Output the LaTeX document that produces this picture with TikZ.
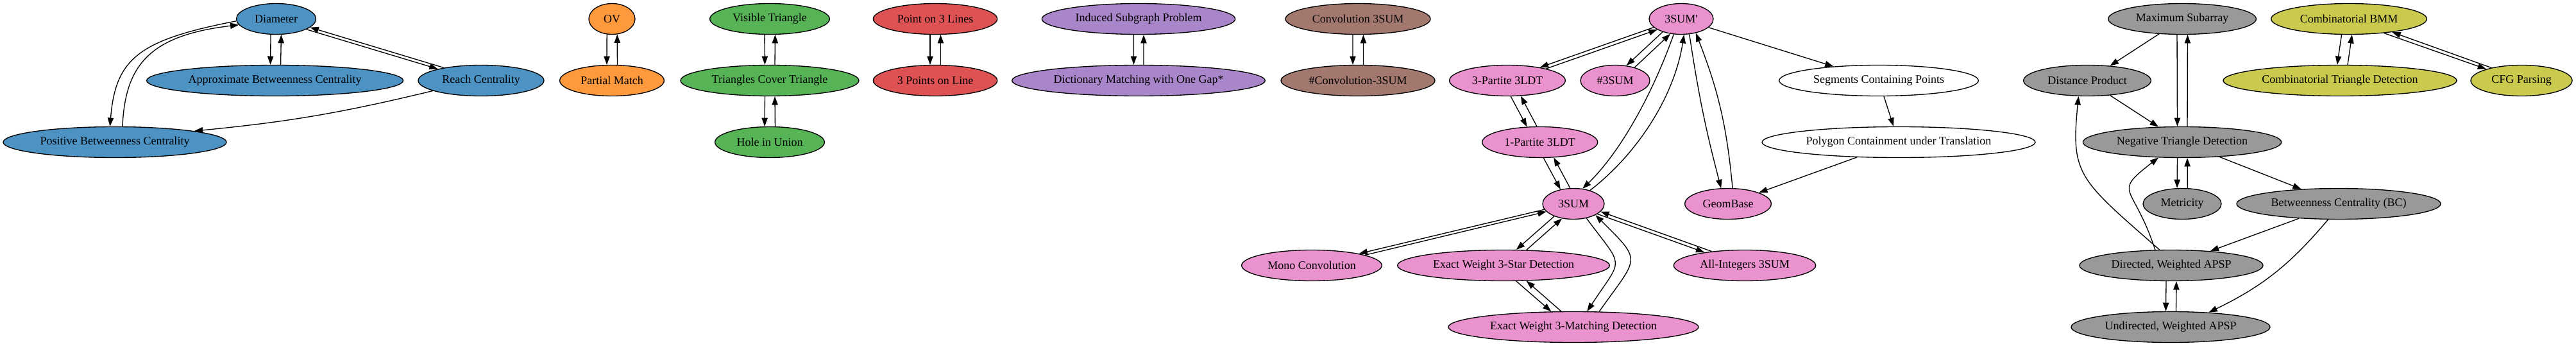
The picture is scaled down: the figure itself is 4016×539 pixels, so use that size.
\documentclass[tikz,border=0pt]{standalone}
\usepackage{fontspec}
\setmainfont{Liberation Serif}
\usetikzlibrary{shapes.geometric,arrows.meta}
\definecolor{cblue}{RGB}{76,146,195}
\definecolor{corange}{RGB}{255,153,62}
\definecolor{cgreen}{RGB}{86,179,86}
\definecolor{cred}{RGB}{222,82,83}
\definecolor{cpurple}{RGB}{169,133,202}
\definecolor{cbrown}{RGB}{163,120,111}
\definecolor{cpink}{RGB}{233,146,206}
\definecolor{cgray}{RGB}{153,153,153}
\definecolor{colive}{RGB}{201,202,78}
\tikzset{
  nd/.style={ellipse, draw=black, line width=1pt, inner sep=0pt,
    minimum height=36pt, font=\fontsize{13.5}{16}\selectfont},
  conn/.style={draw=black, line width=1pt, -{Triangle[length=10pt,width=7pt]}},
}
% straight connector from #1 to #2, shifted 6pt horizontally to the right of travel
\newcommand\pairline[2]{%
  \pgfpointanchor{#1}{center}\pgfgetlastxy{\PLax}{\PLay}%
  \pgfpointanchor{#1}{east}\pgfgetlastxy{\PLaex}{\PLtmp}%
  \pgfpointanchor{#1}{north}\pgfgetlastxy{\PLtmp}{\PLany}%
  \pgfpointanchor{#2}{center}\pgfgetlastxy{\PLbx}{\PLby}%
  \pgfpointanchor{#2}{east}\pgfgetlastxy{\PLbex}{\PLtmp}%
  \pgfpointanchor{#2}{north}\pgfgetlastxy{\PLtmp}{\PLbny}%
  \pgfmathsetmacro\PLdx{(\PLbx)-(\PLax)}%
  \pgfmathsetmacro\PLdy{(\PLby)-(\PLay)}%
  \pgfmathsetmacro\PLh{(\PLdy<0)?(-6):(6)}%
  \pgfmathsetmacro\PLra{(\PLaex)-(\PLax)}%
  \pgfmathsetmacro\PLrb{(\PLany)-(\PLay)}%
  \pgfmathsetmacro\PLrc{(\PLbex)-(\PLbx)}%
  \pgfmathsetmacro\PLrd{(\PLbny)-(\PLby)}%
  \pgfmathsetmacro\PLp{(\PLh)/(\PLra)}%
  \pgfmathsetmacro\PLu{(\PLdx)/(\PLra)}%
  \pgfmathsetmacro\PLv{(\PLdy)/(\PLrb)}%
  \pgfmathsetmacro\PLq{(\PLu)*(\PLu)+(\PLv)*(\PLv)}%
  \pgfmathsetmacro\PLt{(0-(\PLp)*(\PLu)+sqrt((\PLq)-(\PLp)*(\PLp)*(\PLv)*(\PLv)))/(\PLq)}%
  \pgfmathsetmacro\PLangA{atan2((\PLt)*(\PLdy),(\PLh)+(\PLt)*(\PLdx))}%
  \pgfmathsetmacro\PLp{(\PLh)/(\PLrc)}%
  \pgfmathsetmacro\PLu{0-(\PLdx)/(\PLrc)}%
  \pgfmathsetmacro\PLv{0-(\PLdy)/(\PLrd)}%
  \pgfmathsetmacro\PLq{(\PLu)*(\PLu)+(\PLv)*(\PLv)}%
  \pgfmathsetmacro\PLs{(0-(\PLp)*(\PLu)+sqrt((\PLq)-(\PLp)*(\PLp)*(\PLv)*(\PLv)))/(\PLq)}%
  \pgfmathsetmacro\PLangB{atan2(0-(\PLs)*(\PLdy),(\PLh)-(\PLs)*(\PLdx))}%
  \draw[conn] (#1.\PLangA) -- (#2.\PLangB);%
}
\begin{document}
\begin{tikzpicture}[x=0.75pt,y=-0.75pt]
\useasboundingbox (0,0) rectangle (4016,539);
\fill[white] (0,0) rectangle (4016,539);
% blue
\node[nd, fill=cblue, minimum width=93pt] (diam) at (430.5,29.5) {Diameter};
\node[nd, fill=cblue, minimum width=300pt] (abc) at (428.6,125.5) {Approximate Betweenness Centrality};
\node[nd, fill=cblue, minimum width=147pt] (reach) at (750,125.5) {Reach Centrality};
\node[nd, fill=cblue, minimum width=261pt] (pbc) at (179,221.5) {Positive Betweenness Centrality};
% orange
\node[nd, fill=corange, minimum width=54pt] (ov) at (954,29.5) {OV};
\node[nd, fill=corange, minimum width=122pt] (pm) at (954,125.5) {Partial Match};
% green
\node[nd, fill=cgreen, minimum width=140pt] (vt) at (1200,29.5) {Visible Triangle};
\node[nd, fill=cgreen, minimum width=208.5pt] (tct) at (1200,125.5) {Triangles Cover Triangle};
\node[nd, fill=cgreen, minimum width=128pt] (hiu) at (1200,221.5) {Hole in Union};
% red
\node[nd, fill=cred, minimum width=145pt] (ptl) at (1458,29.5) {Point on 3 Lines};
\node[nd, fill=cred, minimum width=145pt] (tpl) at (1458,125.5) {3 Points on Line};
% purple
\node[nd, fill=cpurple, minimum width=226pt] (isp) at (1775,29.5) {Induced Subgraph Problem};
\node[nd, fill=cpurple, minimum width=296pt] (dmg) at (1775,125.5) {Dictionary Matching with One Gap*};
% brown
\node[nd, fill=cbrown, minimum width=169.5pt] (cts) at (2117,29.5) {Convolution 3SUM};
\node[nd, fill=cbrown, minimum width=180pt] (hcts) at (2117,125.5) {\#Convolution-3SUM};
% pink and white
\node[nd, fill=cpink, minimum width=75pt] (sp) at (2621,29.5) {3SUM\textquotesingle};
\node[nd, fill=cpink, minimum width=135.5pt] (pthree) at (2350,125.5) {3-Partite 3LDT};
\node[nd, fill=cpink, minimum width=81pt] (hs) at (2518,125.5) {\#3SUM};
\node[nd, fill=white, minimum width=233pt] (scp) at (2929,125.5) {Segments Containing Points};
\node[nd, fill=cpink, minimum width=135pt] (pone) at (2400.7,221.5) {1-Partite 3LDT};
\node[nd, fill=white, minimum width=319.5pt] (pct) at (2960,221.5) {Polygon Containment under Translation};
\node[nd, fill=cpink, minimum width=72pt] (ts) at (2453,317.5) {3SUM};
\node[nd, fill=cpink, minimum width=101pt] (gb) at (2694,317.5) {GeomBase};
\node[nd, fill=cpink, minimum width=164pt] (mc) at (2045,413.5) {Mono Convolution};
\node[nd, fill=cpink, minimum width=248pt] (ews) at (2344,413.5) {Exact Weight 3-Star Detection};
\node[nd, fill=cpink, minimum width=166pt] (ai) at (2720,413.5) {All-Integers 3SUM};
\node[nd, fill=cpink, minimum width=292.5pt] (ewm) at (2453,509.5) {Exact Weight 3-Matching Detection};
% gray
\node[nd, fill=cgray, minimum width=173pt] (ms) at (3402,29.5) {Maximum Subarray};
\node[nd, fill=cgray, minimum width=149pt] (dp) at (3254,125.5) {Distance Product};
\node[nd, fill=cgray, minimum width=232pt] (ntd) at (3402,221.5) {Negative Triangle Detection};
\node[nd, fill=cgray, minimum width=91.5pt] (met) at (3402,317.5) {Metricity};
\node[nd, fill=cgray, minimum width=238.5pt] (bc) at (3646,317.5) {Betweenness Centrality (BC)};
\node[nd, fill=cgray, minimum width=214.5pt] (dw) at (3385,413.5) {Directed, Weighted APSP};
\node[nd, fill=cgray, minimum width=232.5pt] (uw) at (3384,509.5) {Undirected, Weighted APSP};
% olive
\node[nd, fill=colive, minimum width=182pt] (bmm) at (3662,29.5) {Combinatorial BMM};
\node[nd, fill=colive, minimum width=273pt] (ctd) at (3648,125.5) {Combinatorial Triangle Detection};
\node[nd, fill=colive, minimum width=118.5pt] (cfg) at (3931,125.5) {CFG Parsing};

% paired straight connectors
\pairline{diam}{abc}\pairline{abc}{diam}
\pairline{diam}{reach}\pairline{reach}{diam}
\pairline{ov}{pm}\pairline{pm}{ov}
\pairline{vt}{tct}\pairline{tct}{vt}
\pairline{tct}{hiu}\pairline{hiu}{tct}
\pairline{ptl}{tpl}\pairline{tpl}{ptl}
\pairline{isp}{dmg}\pairline{dmg}{isp}
\pairline{cts}{hcts}\pairline{hcts}{cts}
\pairline{sp}{pthree}\pairline{pthree}{sp}
\pairline{sp}{hs}\pairline{hs}{sp}
\pairline{pthree}{pone}\pairline{pone}{pthree}
\pairline{pone}{ts}\pairline{ts}{pone}
\pairline{ts}{mc}\pairline{mc}{ts}
\pairline{ts}{ews}\pairline{ews}{ts}
\pairline{ts}{ai}\pairline{ai}{ts}
\pairline{ews}{ewm}\pairline{ewm}{ews}
\pairline{ms}{ntd}\pairline{ntd}{ms}
\pairline{ntd}{met}\pairline{met}{ntd}
\pairline{dw}{uw}\pairline{uw}{dw}
\pairline{bmm}{ctd}\pairline{ctd}{bmm}
\pairline{bmm}{cfg}\pairline{cfg}{bmm}

% curved connectors
\draw[conn] (diam.183) .. controls (218,62) and (180,90) .. (pbc.107);
\draw[conn] (pbc.64) .. controls (195,100) and (235,55) .. (diam.189);
\draw[conn] (reach.192) to[bend left=4] (pbc.8);
\draw[conn] (sp.-116) .. controls (2576,147) and (2526,237) .. (ts.59);
\draw[conn] (ts.39) .. controls (2551,241) and (2610,152) .. (sp.-80);
\draw[conn] (sp.-62) to[bend right=3] (gb.114);
\draw[conn] (gb.74) to[bend right=8] (sp.-44);
\draw[conn] (ts.-48) .. controls (2533,420) and (2531,399) .. (ewm.49);
\draw[conn] (ewm.31) .. controls (2554,399) and (2562,409) .. (ts.-27);
\draw[conn] (dw.127) .. controls (3241,279) and (3228,273) .. (dp.-119);
\draw[conn] (dw.136) .. controls (3326,285) and (3291,303) .. (ntd.-147);
\draw[conn] (bc.-124) to[bend left=12] (uw.21);

% single straight connectors
\draw[conn] (sp) -- (scp);
\draw[conn] (scp) -- (pct);
\draw[conn] (pct) -- (gb);
\draw[conn] (ms) -- (dp);
\draw[conn] (dp) -- (ntd);
\draw[conn] (ntd) -- (bc);
\draw[conn] (bc) -- (dw);
\end{tikzpicture}
\end{document}
